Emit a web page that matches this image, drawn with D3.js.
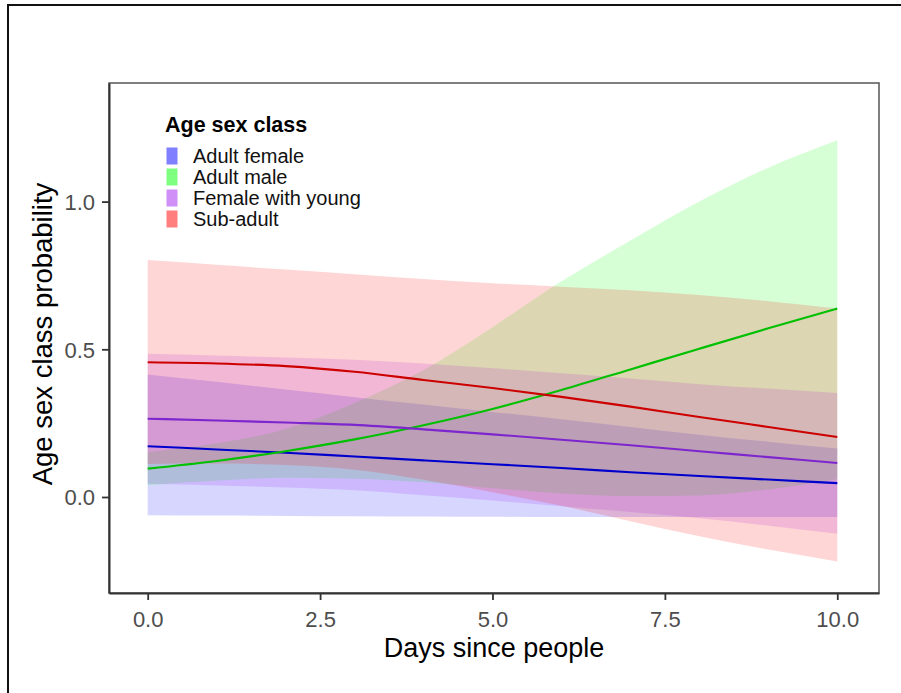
<!DOCTYPE html>
<html>
<head>
<meta charset="utf-8">
<script src="https://cdn.jsdelivr.net/npm/d3@7"></script>
<style>
  html, body { margin: 0; padding: 0; background: #fff; }
  svg { display: block; font-family: "Liberation Sans", Arial, sans-serif; }
</style>
</head>
<body>
<svg id="chart" width="901" height="693"></svg>
<script>
// Predicted probability of each age-sex class over days since people,
// with confidence ribbons.
const days = [0, 1, 2, 3, 4, 5, 6, 7, 8, 9, 10];
const classes = ["Adult female", "Adult male", "Female with young", "Sub-adult"];

const fitAdultFemale   = [0.172, 0.161, 0.150, 0.137, 0.124, 0.111, 0.098, 0.084, 0.071, 0.059, 0.047];
const lowerAdultFemale = [-0.062, -0.063, -0.064, -0.065, -0.066, -0.067, -0.068, -0.068, -0.068, -0.068, -0.068];
const upperAdultFemale = [0.415, 0.390, 0.364, 0.338, 0.313, 0.288, 0.263, 0.237, 0.211, 0.187, 0.164];

const fitAdultMale   = [0.096, 0.122, 0.155, 0.195, 0.243, 0.298, 0.362, 0.432, 0.502, 0.571, 0.638];
const lowerAdultMale = [0.040, 0.055, 0.065, 0.062, 0.050, 0.030, 0.012, 0.003, 0.005, 0.025, 0.060];
const upperAdultMale = [0.152, 0.182, 0.230, 0.318, 0.430, 0.575, 0.730, 0.868, 1.000, 1.115, 1.208];

const fitFemaleYoung   = [0.265, 0.259, 0.252, 0.244, 0.229, 0.212, 0.194, 0.175, 0.155, 0.135, 0.115];
const lowerFemaleYoung = [0.045, 0.039, 0.032, 0.023, 0.006, -0.012, -0.031, -0.051, -0.072, -0.097, -0.124];
const upperFemaleYoung = [0.485, 0.479, 0.472, 0.465, 0.452, 0.436, 0.419, 0.401, 0.382, 0.367, 0.352];

const fitSubAdult   = [0.456, 0.452, 0.443, 0.424, 0.396, 0.369, 0.339, 0.306, 0.271, 0.237, 0.203];
const lowerSubAdult = [0.112, 0.113, 0.108, 0.092, 0.058, 0.016, -0.030, -0.082, -0.133, -0.178, -0.218];
const upperSubAdult = [0.802, 0.786, 0.770, 0.754, 0.738, 0.724, 0.712, 0.700, 0.684, 0.663, 0.638];

const xTicks = [0, 2.5, 5, 7.5, 10];
const yTicks = [0, 0.5, 1];

const fillColors = ["#0000ff", "#00ff00", "#a020f0", "#ff0000"];
const lineColors = ["#0000cd", "#00c000", "#7d26cd", "#cd0000"];

const series = [
  { name: classes[0], fit: fitAdultFemale, lo: lowerAdultFemale, hi: upperAdultFemale },
  { name: classes[1], fit: fitAdultMale,   lo: lowerAdultMale,   hi: upperAdultMale },
  { name: classes[2], fit: fitFemaleYoung, lo: lowerFemaleYoung, hi: upperFemaleYoung },
  { name: classes[3], fit: fitSubAdult,    lo: lowerSubAdult,    hi: upperSubAdult }
].map((s, i) => ({
  ...s,
  fill: fillColors[i],
  line: lineColors[i],
  rows: days.map((d, j) => ({ d, fit: s.fit[j], lo: s.lo[j], hi: s.hi[j] }))
}));

const svg = d3.select("#chart");

// outer frame
svg.append("rect")
  .attr("x", 8).attr("y", 5).attr("width", 1000).attr("height", 1000)
  .attr("fill", "none").attr("stroke", "#111").attr("stroke-width", 2);

const panel = { left: 109, right: 879, top: 83, bottom: 593 };

const x = d3.scaleLinear().domain([-0.561, 10.605]).range([panel.left, panel.right]);
const y = d3.scaleLinear().domain([-0.325, 1.4015]).range([panel.bottom, panel.top]);

const ribbonGen = d3.area()
  .x(r => x(r.d)).y0(r => y(r.lo)).y1(r => y(r.hi))
  .curve(d3.curveMonotoneX);
const lineGen = d3.line()
  .x(r => x(r.d)).y(r => y(r.fit))
  .curve(d3.curveMonotoneX);

// ribbons
svg.append("g").selectAll("path")
  .data(series).join("path")
  .attr("d", s => ribbonGen(s.rows))
  .attr("fill", s => s.fill)
  .attr("fill-opacity", 0.16);

// fitted lines
svg.append("g").selectAll("path")
  .data(series).join("path")
  .attr("d", s => lineGen(s.rows))
  .attr("fill", "none")
  .attr("stroke", s => s.line)
  .attr("stroke-width", 2.1);

// panel border
svg.append("rect")
  .attr("x", panel.left).attr("y", panel.top)
  .attr("width", panel.right - panel.left).attr("height", panel.bottom - panel.top)
  .attr("fill", "none").attr("stroke", "#555").attr("stroke-width", 1.5);

// axes
const xAxis = svg.append("g")
  .attr("transform", `translate(0,${panel.bottom})`)
  .call(d3.axisBottom(x).tickValues(xTicks).tickFormat(d3.format(".1f")).tickSize(7).tickSizeOuter(0).tickPadding(6));
const yAxis = svg.append("g")
  .attr("transform", `translate(${panel.left},0)`)
  .call(d3.axisLeft(y).tickValues(yTicks).tickFormat(d3.format(".1f")).tickSize(7).tickSizeOuter(0).tickPadding(7));

[xAxis, yAxis].forEach(g => {
  g.select(".domain").attr("stroke", "#333").attr("stroke-width", 2);
  g.selectAll(".tick line").attr("stroke", "#333").attr("stroke-width", 1.8);
  g.selectAll(".tick text")
    .attr("fill", "#4d4d4d")
    .style("font-size", "22px")
    .style("font-family", "'Liberation Sans', Arial, sans-serif");
});
xAxis.selectAll(".tick text").attr("dy", "0.95em");
yAxis.selectAll(".tick text").attr("dy", "0.35em");

// axis titles
svg.append("text")
  .attr("x", (panel.left + panel.right) / 2).attr("y", 657)
  .attr("text-anchor", "middle")
  .style("font-size", "27px").attr("fill", "#000")
  .text("Days since people");

svg.append("text")
  .attr("transform", `translate(52,${(panel.top + panel.bottom) / 2 - 4}) rotate(-90)`)
  .attr("text-anchor", "middle")
  .style("font-size", "27.5px").attr("fill", "#000")
  .text("Age sex class probability");

// legend
const legend = svg.append("g").attr("transform", "translate(165,0)");
legend.append("text")
  .attr("x", 0).attr("y", 131.5)
  .style("font-size", "21.5px").style("font-weight", "bold").attr("fill", "#000")
  .text("Age sex class");

const keys = legend.selectAll("g.key")
  .data(series).join("g")
  .attr("class", "key")
  .attr("transform", (s, i) => `translate(0,${147.5 + i * 21})`);
keys.append("rect")
  .attr("x", 1.5).attr("y", 0).attr("width", 11).attr("height", 17)
  .attr("fill", s => s.fill).attr("fill-opacity", 0.5);
keys.append("text")
  .attr("x", 28).attr("y", 8.5).attr("dy", "0.35em")
  .style("font-size", "20px").attr("fill", "#111")
  .text(s => s.name);
</script>
</body>
</html>
